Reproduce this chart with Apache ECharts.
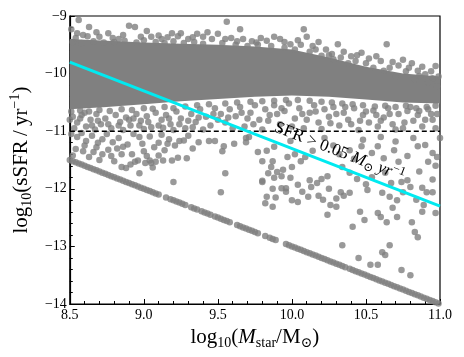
<!DOCTYPE html>
<html>
<head>
<meta charset="utf-8">
<script src="https://cdn.jsdelivr.net/npm/echarts@6/dist/echarts.min.js"></script>
<style>
html,body{margin:0;padding:0;background:#fff;}
#chart{width:464px;height:357px;}
</style>
</head>
<body>
<div id="chart"></div>
<script>
// dense core of the main sequence: envelope
var cloudMass   = [8.5, 8.75, 9.0, 9.25, 9.5, 9.75, 10.0, 10.25, 10.5, 10.75, 11.0];
var cloudTop    = [-9.40, -9.43, -9.46, -9.48, -9.50, -9.53, -9.58, -9.72, -9.88, -10.0, -10.05];
var cloudBottom = [-10.62, -10.58, -10.53, -10.48, -10.44, -10.4, -10.38, -10.4, -10.45, -10.5, -10.52];

// galaxies scattered round the core
var galaxies = [
  [8.56,-9.07],[8.63,-9.19],[8.51,-9.23],[8.59,-9.33],[8.54,-9.38],[8.70,-9.36],[8.76,-9.30],[8.83,-9.40],[8.90,-9.17],[8.94,-9.19],
  [9.02,-9.26],[9.05,-9.36],[9.10,-9.34],[9.16,-9.37],[9.23,-9.35],[9.25,-9.30],[9.30,-9.40],[9.36,-9.31],[9.43,-9.28],[9.50,-9.31],
  [9.46,-9.40],[9.56,-9.10],[9.59,-9.38],[9.65,-9.23],[9.67,-9.40],[9.73,-9.44],[9.79,-9.38],[9.83,-9.43],[9.88,-9.36],[9.92,-9.40],
  [9.99,-9.49],[10.04,-9.42],[10.08,-9.23],[10.10,-9.36],[10.14,-9.52],[10.18,-9.45],[10.20,-9.69],[10.23,-9.58],[10.27,-9.66],[10.31,-9.49],
  [10.35,-9.62],[10.40,-9.70],[10.44,-9.68],[10.47,-9.64],[10.52,-9.74],[10.57,-9.70],[10.60,-9.78],[10.64,-9.49],[10.68,-9.80],[10.72,-9.86],
  [10.75,-9.76],[10.79,-9.90],[10.81,-9.82],[10.85,-9.95],[10.88,-9.88],[10.90,-10.01],[10.94,-9.96],[10.97,-9.87],[10.99,-10.05],
  [8.52,-9.45],[8.58,-9.47],[8.66,-9.44],[8.73,-9.46],[8.80,-9.45],[8.87,-9.43],[8.95,-9.46],[9.00,-9.42],[9.08,-9.45],[9.14,-9.47],
  [9.20,-9.44],[9.27,-9.47],[9.34,-9.45],[9.40,-9.48],[9.53,-9.47],[9.62,-9.50],[9.70,-9.52],[9.77,-9.50],[9.86,-9.52],[9.95,-9.55],
  [10.02,-9.58],[10.12,-9.62],[10.28,-9.75],[10.38,-9.82],[10.55,-9.90],[10.62,-9.95],[10.70,-10.05],[10.83,-10.10],[10.92,-10.15],[10.98,-10.22],
  [8.55,-9.30],[8.62,-9.35],[8.68,-9.28],[8.79,-9.38],[8.86,-9.33],[8.98,-9.36],[9.12,-9.40],[9.19,-9.30],[9.33,-9.37],[9.40,-9.36],
  [9.55,-9.40],[9.63,-9.44],[9.76,-9.46],[9.95,-9.45],[10.06,-9.50],[10.16,-9.58],[10.25,-9.68],[10.33,-9.72],[10.43,-9.78],[10.50,-9.82],
  [10.66,-9.90],[10.77,-9.96],[10.86,-10.04],[10.95,-10.08],
  [8.51,-10.66],[8.57,-10.64],[8.63,-10.66],[8.70,-10.63],[8.77,-10.65],[8.85,-10.62],[8.92,-10.63],[9.00,-10.60],[9.06,-10.61],[9.14,-10.58],
  [9.20,-10.60],[9.28,-10.57],[9.36,-10.55],[9.44,-10.53],[9.55,-10.52],[9.63,-10.50],[9.72,-10.49],[9.80,-10.48],[9.88,-10.47],[9.96,-10.46],
  [10.04,-10.46],[10.12,-10.47],[10.20,-10.49],[10.27,-10.50],[10.34,-10.52],[10.41,-10.53],[10.48,-10.55],[10.56,-10.57],[10.63,-10.56],[10.70,-10.58],
  [10.77,-10.56],[10.84,-10.60],[10.91,-10.58],[10.97,-10.56],
  [8.52,-10.75],[8.55,-10.85],[8.58,-10.72],[8.61,-10.92],[8.64,-10.80],[8.68,-10.70],[8.71,-10.88],[8.74,-10.78],[8.78,-10.95],[8.81,-10.72],
  [8.84,-10.84],[8.88,-10.76],[8.91,-10.90],[8.95,-10.70],[8.98,-10.82],[9.02,-10.74],[9.05,-10.93],[9.08,-10.68],[9.12,-10.80],[9.15,-10.72],
  [9.18,-10.88],[9.22,-10.66],[9.25,-10.78],[9.28,-10.95],[9.32,-10.70],[9.35,-10.84],[9.38,-10.62],[9.42,-10.75],[9.45,-10.90],[9.48,-10.60],
  [9.52,-10.70],[9.55,-10.85],[9.58,-10.62],[9.62,-10.74],[9.65,-10.58],[9.68,-10.92],[9.72,-10.68],[9.75,-10.55],[9.78,-10.80],[9.82,-10.62],
  [9.85,-10.72],[9.88,-10.55],[9.92,-10.88],[9.95,-10.65],[9.98,-10.52],[10.02,-10.78],[10.05,-10.60],[10.08,-10.95],[10.12,-10.68],[10.15,-10.55],
  [10.18,-10.85],[10.22,-10.62],[10.25,-10.75],[10.28,-10.58],[10.32,-10.90],[10.35,-10.68],[10.38,-10.80],[10.42,-10.60],[10.45,-10.98],[10.48,-10.72],
  [10.52,-10.85],[10.55,-10.64],[10.58,-10.92],[10.62,-10.76],[10.65,-10.60],[10.68,-10.88],[10.72,-10.70],[10.75,-10.95],[10.78,-10.65],[10.82,-10.82],
  [10.85,-10.72],[10.88,-10.92],[10.92,-10.62],[10.95,-10.80],[10.98,-10.70],
  [8.53,-10.95],[8.60,-10.68],[8.67,-10.97],[8.76,-10.88],[8.86,-10.98],[8.93,-10.78],[9.00,-10.96],[9.10,-10.90],[9.20,-10.98],[9.30,-10.82],
  [9.40,-10.97],[9.50,-10.80],[9.60,-10.95],[9.70,-10.78],[9.80,-10.97],[9.90,-10.70],[10.00,-10.92],[10.10,-10.80],[10.20,-10.96],[10.30,-10.70],
  [10.40,-10.88],[10.50,-10.66],[10.60,-10.82],[10.70,-10.97],[10.80,-10.58],[10.90,-10.80],[10.97,-10.95],
  [8.50,-10.80],[8.57,-10.78],[8.65,-10.90],[8.69,-10.82],[8.83,-10.90],[8.90,-10.80],[8.97,-10.90],[9.03,-10.84],[9.13,-10.94],[9.17,-10.78],
  [9.24,-10.88],[9.33,-10.93],[9.37,-10.76],[9.47,-10.70],[9.57,-10.76],[9.66,-10.68],[9.74,-10.88],[9.84,-10.82],[9.93,-10.60],[10.07,-10.70],
  [10.16,-10.66],[10.26,-10.86],[10.36,-10.58],[10.46,-10.82],[10.57,-10.72],[10.66,-10.70],[10.76,-10.85],[10.86,-10.65],[10.94,-10.70],
  [8.55,-11.10],[8.61,-11.17],[8.72,-11.14],[8.79,-11.19],[8.89,-11.23],[8.97,-11.10],[9.04,-11.09],[9.17,-11.14],[9.24,-11.17],[9.27,-11.16],
  [8.54,-11.31],[8.59,-11.35],[8.66,-11.36],[8.72,-11.40],[8.78,-11.43],[8.85,-11.40],[8.92,-11.40],[9.00,-11.35],[9.07,-11.28],[9.13,-11.51],
  [9.19,-11.51],[9.23,-11.46],[8.96,-11.51],[9.04,-11.51],[8.85,-11.62],[8.88,-11.64],[8.91,-11.58],[8.94,-11.53],[8.97,-11.73],[9.01,-11.55],
  [9.05,-11.55],[9.06,-11.63],[9.08,-11.53],[9.20,-11.88],[9.29,-11.47],[9.52,-12.06],[9.55,-11.73],[9.53,-11.35],[8.60,-11.25],[8.68,-11.28],
  [8.82,-11.30],[9.10,-11.20],
  [8.51,-11.05],[8.58,-11.03],[8.65,-11.08],[8.69,-11.20],[8.75,-11.05],[8.83,-11.12],[8.86,-11.27],[8.93,-11.05],[8.99,-11.22],[9.02,-11.43],
  [9.12,-11.06],[9.14,-11.33],[9.21,-11.25],[9.30,-11.08],[9.33,-11.30],[8.63,-11.45],[8.70,-11.50],[8.80,-11.52],[8.76,-11.32],[8.52,-11.42],
  [9.10,-11.42],[9.16,-11.22],
  [9.37,-11.19],[9.44,-11.17],[9.48,-11.17],[9.54,-11.26],[9.61,-11.22],[9.69,-11.19],[9.71,-11.10],[9.77,-11.36],[9.83,-11.34],[9.80,-11.52],
  [9.87,-11.52],[9.97,-11.45],[10.02,-11.40],[10.06,-11.52],[10.14,-11.34],[9.99,-11.17],[9.69,-11.12],[9.88,-11.27],[9.84,-11.73],[9.80,-11.88],
  [9.90,-11.71],[9.94,-11.67],[9.96,-11.99],[10.00,-11.62],[10.04,-11.93],[10.09,-11.45],[10.12,-11.85],[10.13,-11.97],[10.17,-11.90],[9.99,-11.81],
  [9.88,-11.81],[10.20,-11.83],[10.24,-11.78],[9.87,-12.00],[9.89,-12.15],[9.96,-12.05],[10.07,-12.05],[10.18,-12.12],[10.25,-12.00],[10.30,-12.17],
  [10.21,-12.19],[10.24,-12.45],[10.26,-12.28],[10.30,-12.31],[10.11,-12.14],[10.04,-12.23],[9.82,-12.25],[9.87,-12.31],[10.33,-12.06],[10.35,-12.12],
  [10.39,-12.07],[10.34,-12.98],[10.41,-12.66],[10.45,-13.20],[10.46,-12.40],[10.49,-12.54],[10.53,-13.32],[10.58,-13.32],[10.61,-13.10],[10.63,-13.15],
  [10.58,-12.42],[10.60,-12.49],[10.64,-12.58],[10.66,-12.98],[10.71,-12.49],[10.68,-12.33],[10.74,-13.41],[10.80,-13.50],[10.81,-12.58],[10.85,-12.84],
  [10.83,-12.75],[10.88,-12.40],[10.89,-12.28],[10.97,-12.42],[10.95,-12.06],[10.75,-12.06],[10.80,-11.97],[10.71,-12.20],[10.51,-12.02],[10.61,-12.07],
  [10.66,-12.14],[10.84,-12.19],[9.80,-11.86],[9.83,-12.14],[9.93,-11.99],[10.00,-12.20],[9.86,-11.62],[9.93,-11.78],
  [10.34,-11.62],[10.39,-11.72],[10.44,-11.83],[10.50,-11.92],[10.54,-11.80],[10.63,-11.72],[10.67,-11.90],[10.74,-11.88],[10.78,-11.85],[10.88,-11.98],
  [10.91,-12.06],[10.86,-11.70],[10.95,-11.84],[10.78,-11.43],[10.69,-11.33],[10.58,-11.26],[10.85,-11.26],[10.95,-11.38],[10.54,-11.38],[10.47,-11.26],
  [10.39,-11.33],[10.62,-11.47],[10.72,-11.53],[10.92,-11.53],[11.00,-11.12],[10.22,-11.12],[10.28,-11.25],[10.32,-11.40],[10.42,-11.48],[10.48,-11.15],
  [10.60,-11.10],[10.70,-11.18],[10.82,-11.12],[10.90,-11.24],[10.97,-11.60],[10.98,-11.45]
];

// galaxies sitting on the SFR floor
var floorPoints = [
  [8.50,-11.50],[8.52,-11.52],[8.54,-11.54],[8.56,-11.56],[8.58,-11.58],[8.60,-11.60],[8.62,-11.62],[8.64,-11.64],[8.66,-11.66],[8.68,-11.68],
  [8.70,-11.70],[8.72,-11.72],[8.74,-11.74],[8.76,-11.76],[8.78,-11.78],[8.80,-11.80],[8.82,-11.82],[8.84,-11.84],[8.86,-11.86],[8.88,-11.88],
  [8.90,-11.90],[8.92,-11.92],[8.94,-11.94],[8.96,-11.96],[8.98,-11.98],[9.00,-12.00],[9.02,-12.02],[9.04,-12.04],[9.06,-12.06],[9.08,-12.08],
  [9.10,-12.10],[9.15,-12.15],[9.18,-12.18],[9.20,-12.20],[9.22,-12.22],[9.24,-12.24],[9.26,-12.26],[9.28,-12.28],[9.32,-12.32],[9.34,-12.34],
  [9.36,-12.36],[9.39,-12.39],[9.41,-12.41],[9.43,-12.43],[9.45,-12.45],[9.48,-12.48],[9.50,-12.50],[9.52,-12.52],[9.54,-12.54],[9.56,-12.56],
  [9.58,-12.58],[9.63,-12.63],[9.65,-12.65],[9.67,-12.67],[9.69,-12.69],[9.71,-12.71],[9.73,-12.73],[9.75,-12.75],[9.77,-12.77],[9.82,-12.82],
  [9.85,-12.85],[9.87,-12.87],[9.89,-12.89],
  [9.96,-12.96],[9.98,-12.98],[10.00,-13.00],[10.02,-13.02],[10.04,-13.04],[10.06,-13.06],[10.08,-13.08],[10.10,-13.10],[10.12,-13.12],[10.14,-13.14],
  [10.16,-13.16],[10.18,-13.18],[10.20,-13.20],[10.22,-13.22],[10.24,-13.24],[10.26,-13.26],[10.28,-13.28],[10.30,-13.30],[10.32,-13.32],[10.34,-13.34],
  [10.36,-13.36],[10.39,-13.39],[10.41,-13.41],[10.43,-13.43],[10.45,-13.45],[10.47,-13.47],[10.49,-13.49],[10.51,-13.51],[10.53,-13.53],[10.55,-13.55],
  [10.57,-13.57],[10.59,-13.59],[10.61,-13.61],[10.63,-13.63],[10.65,-13.65],[10.67,-13.67],[10.69,-13.69],[10.71,-13.71],[10.73,-13.73],[10.75,-13.75],
  [10.77,-13.77],[10.79,-13.79],[10.81,-13.81],[10.83,-13.83],[10.85,-13.85],[10.87,-13.87],[10.89,-13.89],[10.91,-13.91],[10.93,-13.93],[10.95,-13.95],
  [10.97,-13.97],[10.99,-13.99]
];

// SFR = 0.05 Msun/yr cut and the sSFR = 1e-11 threshold
var cutLine = [[8.5,-9.80],[11.0,-12.30]];
var threshold = [[8.5,-11.0],[11.0,-11.0]];
var labelAt = [10.32,-11.36];

var serif = '"Liberation Serif", "DejaVu Serif", serif';

var chart = echarts.init(document.getElementById('chart'));

var option = {
  animation: false,
  grid: {
    left: 69, right: 24, top: 16, bottom: 53,
    show: true, borderColor: '#000', borderWidth: 1.2, backgroundColor: 'transparent'
  },
  xAxis: {
    type: 'value',
    min: 8.5, max: 11, interval: 0.5,
    name: '{a|log}{s|10}{a|(}{i|M}{s|star}{a|/M}{s|⊙}{a|)}',
    nameLocation: 'middle',
    nameGap: 19,
    nameTextStyle: {
      color: '#000', fontFamily: serif, fontSize: 21, verticalAlign: 'top',
      rich: {
        a: {fontFamily: serif, fontSize: 21, lineHeight: 26, verticalAlign: 'middle', color: '#000'},
        i: {fontFamily: serif, fontSize: 21, fontStyle: 'italic', lineHeight: 26, verticalAlign: 'middle', color: '#000'},
        s: {fontFamily: serif, fontSize: 14, lineHeight: 16, verticalAlign: 'bottom', color: '#000'}
      }
    },
    axisLine: {show: true, lineStyle: {color: '#000', width: 1.2}},
    axisTick: {inside: true, length: 5, lineStyle: {color: '#000'}},
    minorTick: {show: true, splitNumber: 5, length: 3, lineStyle: {color: '#000'}},
    splitLine: {show: false},
    axisLabel: {
      color: '#000', fontFamily: serif, fontSize: 14, margin: 4,
      formatter: function (v) { return v.toFixed(1); }
    }
  },
  yAxis: {
    type: 'value',
    min: -14, max: -9, interval: 1,
    name: '{a|log}{s|10}{a|(sSFR\u2009/\u2009yr}{p|−1}{a|)}',
    nameLocation: 'middle',
    nameGap: 35,
    nameTextStyle: {
      color: '#000', fontFamily: serif, fontSize: 21,
      rich: {
        a: {fontFamily: serif, fontSize: 21, lineHeight: 26, verticalAlign: 'middle', color: '#000'},
        s: {fontFamily: serif, fontSize: 14, lineHeight: 16, verticalAlign: 'bottom', color: '#000'},
        p: {fontFamily: serif, fontSize: 14, lineHeight: 16, verticalAlign: 'top', color: '#000'}
      }
    },
    axisLine: {show: true, lineStyle: {color: '#000', width: 1.2}},
    axisTick: {inside: true, length: 5, lineStyle: {color: '#000'}},
    minorTick: {show: true, splitNumber: 5, length: 3, lineStyle: {color: '#000'}},
    splitLine: {show: false},
    axisLabel: {
      color: '#000', fontFamily: serif, fontSize: 14, margin: 3,
      formatter: function (v) { return '\u2212' + Math.abs(v); }
    }
  },
  series: [
    {
      // dense core
      type: 'custom',
      silent: true,
      clip: true,
      z: 1,
      data: [[cloudMass[0], cloudTop[0]]],
      renderItem: function (params, api) {
        var pts = [];
        for (var i = 0; i < cloudMass.length; i++) pts.push(api.coord([cloudMass[i], cloudTop[i]]));
        for (var j = cloudMass.length - 1; j >= 0; j--) pts.push(api.coord([cloudMass[j], cloudBottom[j]]));
        return {type: 'polygon', shape: {points: pts}, style: {fill: '#808080'}};
      }
    },
    {
      type: 'scatter',
      silent: true,
      z: 2,
      symbolSize: 6.5,
      itemStyle: {color: '#808080', opacity: 0.8},
      data: galaxies
    },
    {
      type: 'scatter',
      silent: true,
      z: 2,
      symbolSize: 6.5,
      itemStyle: {color: '#808080', opacity: 0.8},
      data: floorPoints
    },
    {
      type: 'line',
      silent: true,
      z: 3,
      symbol: 'none',
      lineStyle: {color: '#000', width: 1.5, type: [5, 3]},
      data: threshold
    },
    {
      type: 'line',
      silent: true,
      z: 4,
      symbol: 'none',
      lineStyle: {color: '#00eaf0', width: 3},
      data: cutLine
    }
  ]
};

chart.setOption(option);

var p = chart.convertToPixel({gridIndex: 0}, labelAt);
var p0 = chart.convertToPixel({gridIndex: 0}, cutLine[0]);
var p1 = chart.convertToPixel({gridIndex: 0}, cutLine[1]);
var ang = Math.atan2(p1[1] - p0[1], p1[0] - p0[0]);

chart.setOption({
  graphic: [{
    type: 'text',
    x: p[0], y: p[1],
    rotation: -ang,
    z: 10,
    style: {
      text: '{a|SFR > 0.05 }{i|M}{s|⊙}{a| }{i|yr}{p|−1}',
      align: 'center',
      verticalAlign: 'middle',
      rich: {
        a: {fontFamily: serif, fontSize: 17, lineHeight: 21, verticalAlign: 'middle', fill: '#000'},
        i: {fontFamily: serif, fontSize: 17, fontStyle: 'italic', lineHeight: 21, verticalAlign: 'middle', fill: '#000'},
        s: {fontFamily: serif, fontSize: 12, lineHeight: 13, verticalAlign: 'bottom', fill: '#000'},
        p: {fontFamily: serif, fontSize: 12, lineHeight: 13, verticalAlign: 'top', fill: '#000'}
      }
    }
  }]
});
</script>
</body>
</html>
